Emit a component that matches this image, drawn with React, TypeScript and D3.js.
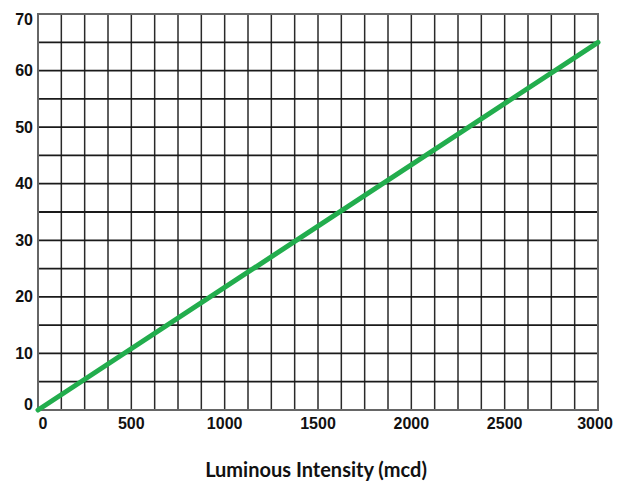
import React, { useEffect, useRef } from 'react';
import * as d3 from 'd3';

// data
const intensity = [0, 3000];
const voltage = [0, 65];
const xTicks = [0, 500, 1000, 1500, 2000, 2500, 3000];
const yTicks = [0, 10, 20, 30, 40, 50, 60, 70];
const xTitle = 'Luminous Intensity (mcd)';

const App = () => {
  const ref = useRef<SVGSVGElement>(null);

  useEffect(() => {
    const width = 625;
    const height = 482;
    const margin = { top: 14, right: 27, bottom: 72, left: 38 };

    const svg = d3.select(ref.current);
    svg.selectAll('*').remove();
    svg.attr('width', width).attr('height', height);

    const x = d3.scaleLinear()
      .domain([0, 3000])
      .range([margin.left, width - margin.right]);

    const y = d3.scaleLinear()
      .domain([0, 70])
      .range([height - margin.bottom, margin.top]);

    // grid lines: 125 mcd columns, 5 unit rows
    const grid = svg.append('g');
    grid.selectAll('line.v')
      .data(d3.range(0, 3001, 125))
      .join('line')
      .attr('x1', d => x(d))
      .attr('x2', d => x(d))
      .attr('y1', y(0))
      .attr('y2', y(70))
      .attr('stroke', '#2a2a2a')
      .attr('stroke-width', 1.5);

    grid.selectAll('line.h')
      .data(d3.range(0, 71, 5))
      .join('line')
      .attr('x1', x(0))
      .attr('x2', x(3000))
      .attr('y1', d => y(d))
      .attr('y2', d => y(d))
      .attr('stroke', '#1a1a1a')
      .attr('stroke-width', 1.8);

    // frame
    svg.append('rect')
      .attr('x', x(0))
      .attr('y', y(70))
      .attr('width', x(3000) - x(0))
      .attr('height', y(0) - y(70))
      .attr('fill', 'none')
      .attr('stroke', '#666')
      .attr('stroke-width', 2);

    // the line
    const pts = intensity.map((v, i) => [v, voltage[i]] as [number, number]);
    svg.append('path')
      .datum(pts)
      .attr('d', d3.line().x(d => x(d[0])).y(d => y(d[1])))
      .attr('fill', 'none')
      .attr('stroke', '#22ad4d')
      .attr('stroke-width', 5)
      .attr('stroke-linecap', 'round');

    // tick labels
    const font = "'Liberation Sans', Arial, sans-serif";
    svg.append('g')
      .selectAll('text')
      .data(xTicks)
      .join('text')
      .attr('x', (d, i) => x(d) + (i === 0 ? 5 : i === xTicks.length - 1 ? -3 : 0))
      .attr('y', y(0) + 19)
      .attr('text-anchor', 'middle')
      .attr('font-family', font)
      .attr('font-weight', 'bold')
      .attr('font-size', 16)
      .attr('fill', '#111')
      .text(d => d);

    svg.append('g')
      .selectAll('text')
      .data(yTicks)
      .join('text')
      .attr('x', x(0) - 5)
      .attr('y', (d, i) => y(d) + (i === 0 ? -6 : i === yTicks.length - 1 ? 5 : 0))
      .attr('dy', '0.35em')
      .attr('text-anchor', 'end')
      .attr('font-family', font)
      .attr('font-weight', 'bold')
      .attr('font-size', 16)
      .attr('fill', '#111')
      .text(d => d);

    // axis title
    svg.append('text')
      .attr('x', 316)
      .attr('y', 477)
      .attr('text-anchor', 'middle')
      .attr('font-family', "Lato, 'Open Sans', sans-serif")
      .attr('font-weight', 'bold')
      .attr('font-size', 20)
      .attr('fill', '#111')
      .text(xTitle);
  }, []);

  return (
    <svg
      ref={ref}
      style={{ position: 'absolute', left: 0, top: 0, background: '#fff' }}
    />
  );
};

export default App;
